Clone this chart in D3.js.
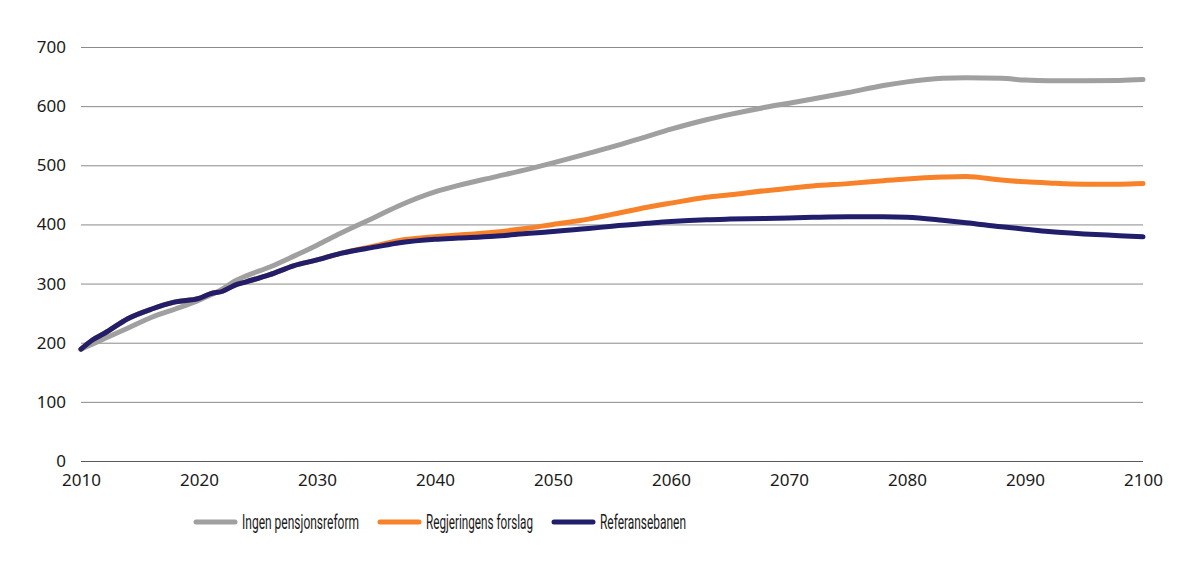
<!DOCTYPE html>
<html>
<head>
<meta charset="utf-8">
<script src="https://cdn.jsdelivr.net/npm/d3@7"></script>
<style>
  body { margin: 0; background: #ffffff; }
  text { font-family: "Noto Sans", sans-serif; fill: #1a1a1a; }
  .legend text { font-family: "Liberation Sans Narrow", "Roboto", sans-serif; }
</style>
</head>
<body>
<div id="chart"></div>
<script>
// Sizing
const svgWidth = 1198,
  svgHeight = 568;
const margin = { top: 47, right: 55, bottom: 107, left: 81 };
const plotWidth = svgWidth - margin.left - margin.right,
  plotHeight = svgHeight - margin.top - margin.bottom;

// Colouring
const colors = ["#a0a0a0", "#f7822a", "#211e6c"];
const gridColor = "#8a8a8a";

// Content
const seriesNames = ["Ingen pensjonsreform", "Regjeringens forslag", "Referansebanen"];
const years = [2010, 2011, 2012, 2014, 2016, 2018, 2020, 2021, 2022, 2023, 2024, 2026, 2028,
  2030, 2032, 2035, 2037, 2040, 2042, 2045, 2048, 2050, 2053, 2055, 2058, 2060, 2063, 2065,
  2068, 2070, 2072, 2075, 2078, 2080, 2083, 2085, 2088, 2090, 2092, 2095, 2098, 2100];
const ingenReform = [189, 198, 207, 225, 243, 257, 272, 281, 291, 304, 313, 328, 346,
  365, 385, 413, 432, 455, 466, 480, 494, 504, 520, 531, 549, 561, 577, 586,
  598, 605, 612, 623, 635, 641, 647, 648, 647, 644, 643, 643, 643.5, 645];
const regjeringen = [189, 205, 216, 241, 257, 269, 275, 283, 287, 297, 303, 315, 330,
  340, 351, 364, 373, 379, 382, 387, 394, 400, 409, 417, 429, 436, 446, 450,
  457, 461, 465, 469, 474, 477, 480, 481, 475, 472, 470, 468, 468, 469];
const referanse = [189, 205, 216, 241, 257, 269, 275, 283, 287, 297, 303, 315, 330,
  340, 351, 362, 369, 375, 377, 380, 385, 388, 393, 397, 402, 405, 408, 409,
  410, 411, 412, 413, 413, 412, 407, 403, 396, 392, 388, 384, 381, 379];
const xTicks = [2010, 2020, 2030, 2040, 2050, 2060, 2070, 2080, 2090, 2100];
const yTicks = [0, 100, 200, 300, 400, 500, 600, 700];

const seriesValues = [ingenReform, regjeringen, referanse];

/** Create SVG */
var svg = d3.select("#chart")
  .append("svg")
  .attr("width", svgWidth)
  .attr("height", svgHeight)
  .append("g")
  .attr("transform", "translate(" + margin.left + "," + margin.top + ")");

/** Scales */
var x = d3.scaleLinear()
  .domain([2010, 2100])
  .range([0, plotWidth]);

var y = d3.scaleLinear()
  .domain([0, 700])
  .range([plotHeight, 0]);

/** Gridlines + Y-axis labels */
var yAxis = svg.append("g").classed("axis", true)
  .call(d3.axisLeft(y).tickValues(yTicks).tickSize(-plotWidth).tickPadding(15));
yAxis.select(".domain").remove();
yAxis.selectAll("line")
  .style("stroke", (d) => d === 0 ? "#5a5a5a" : gridColor)
  .style("stroke-width", 1);
yAxis.selectAll("text")
  .style("font-size", "17px")
  .style("font-family", "'Noto Sans', sans-serif")
  .attr("fill", "#1a1a1a");

/** X-axis labels */
var xAxis = svg.append("g").classed("axis", true)
  .attr("transform", "translate(0," + plotHeight + ")")
  .call(d3.axisBottom(x).tickValues(xTicks).tickFormat(d3.format("d")).tickSize(0).tickPadding(13));
xAxis.select(".domain").remove();
xAxis.selectAll("text")
  .style("font-size", "17px")
  .style("font-family", "'Noto Sans', sans-serif")
  .attr("fill", "#1a1a1a");

/** Lines */
var line = d3.line()
  .x((d) => x(d[0]))
  .y((d) => y(d[1]))
  .curve(d3.curveMonotoneX);

svg.append("g").classed("lines", true)
  .selectAll("path")
  .data(seriesValues)
  .enter().append("path")
  .attr("d", (vals) => line(years.map((yr, i) => [yr, vals[i]])))
  .attr("fill", "none")
  .attr("stroke", (d, i) => colors[i])
  .attr("stroke-width", 5)
  .attr("stroke-linecap", "round")
  .attr("stroke-linejoin", "round");

/** Legend */
const legendX = [115, 299, 473];
const legendTextWidth = [117, 107, 86];
var legend = svg.append("g").classed("legend", true)
  .selectAll("g")
  .data(seriesNames)
  .enter().append("g")
  .attr("transform", (d, i) => "translate(" + legendX[i] + "," + (plotHeight + 61) + ")");

legend.append("line")
  .attr("x1", 0)
  .attr("x2", 39)
  .attr("stroke", (d, i) => colors[i])
  .attr("stroke-width", 5)
  .attr("stroke-linecap", "round");

legend.append("text")
  .attr("x", 46)
  .attr("y", 7)
  .style("font-size", "20px")
  .attr("textLength", (d, i) => legendTextWidth[i])
  .attr("lengthAdjust", "spacingAndGlyphs")
  .text((d) => d);
</script>
</body>
</html>
